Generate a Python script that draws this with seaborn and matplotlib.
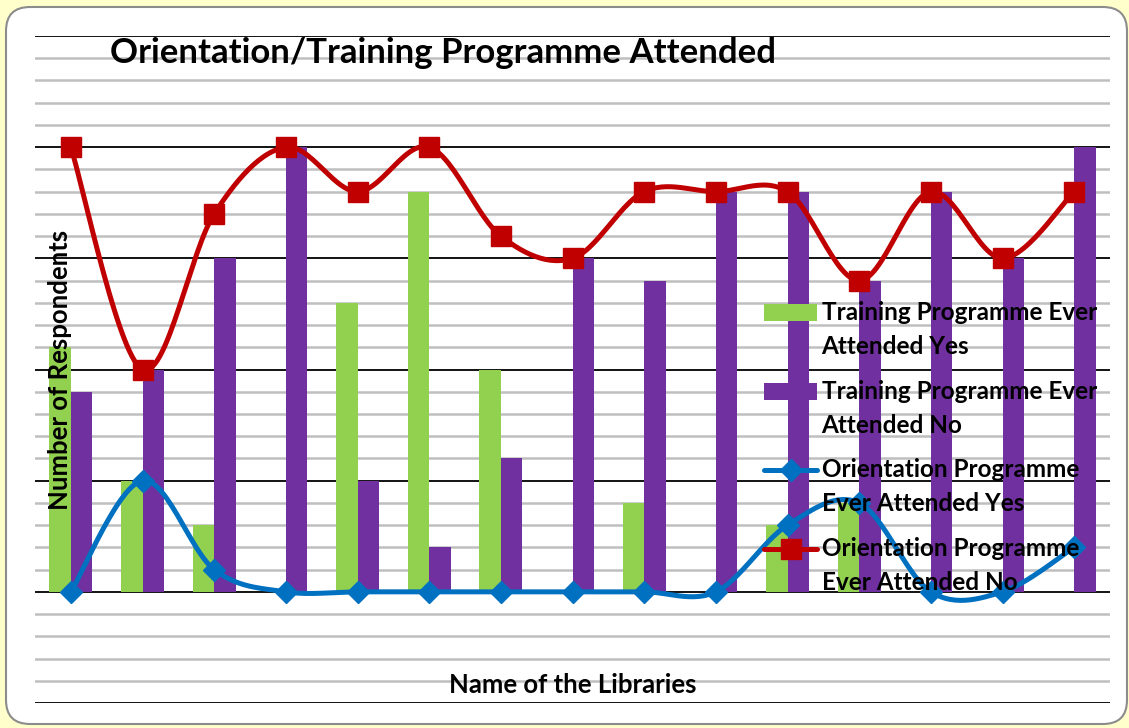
import matplotlib
matplotlib.use("Agg")
import matplotlib.pyplot as plt
import numpy as np
import pandas as pd
import seaborn as sns
from matplotlib.legend_handler import HandlerLine2D, HandlerPatch
from matplotlib.lines import Line2D
from matplotlib.patches import Patch, FancyBboxPatch
from matplotlib.transforms import IdentityTransform

# Дані з діаграми
libraries = ["L1", "L2", "L3", "L4", "L5", "L6", "L7", "L8",
             "L9", "L10", "L11", "L12", "L13", "L14", "L15"]
training_yes = [11, 5, 3, 0, 13, 18, 10, 0, 4, 0, 3, 4, 0, 0, 0]
training_no = [9, 10, 15, 20, 5, 2, 6, 15, 14, 18, 18, 14, 18, 15, 20]
orientation_yes = [0, 5, 1, 0, 0, 0, 0, 0, 0, 0, 3, 4, 0, 0, 2]
orientation_no = [20, 10, 17, 20, 18, 20, 16, 15, 18, 18, 18, 14, 18, 15, 18]

lbl_ty = "Training Programme Ever\nAttended Yes"
lbl_tn = "Training Programme Ever\nAttended No"
lbl_oy = "Orientation Programme\nEver Attended Yes"
lbl_on = "Orientation Programme\nEver Attended No"

GREEN = "#92D050"
PURPLE = "#7030A0"
BLUE = "#0070C0"
RED = "#C00000"

sns.set_style("white")
plt.rcParams["font.family"] = ["Lato", "DejaVu Sans"]
plt.rcParams["font.weight"] = "bold"
plt.rcParams["text.color"] = "black"


def smooth(y, steps=30):
    # згладжена лінія як в Excel (безьє через сусідні точки)
    y = np.asarray(y, dtype=float)
    x = np.arange(len(y), dtype=float)
    pts = np.column_stack([x, y])
    out = []
    for i in range(len(pts) - 1):
        p0 = pts[max(i - 1, 0)]
        p1 = pts[i]
        p2 = pts[i + 1]
        p3 = pts[min(i + 2, len(pts) - 1)]
        c1 = p1 + (p2 - p0) / 6
        c2 = p2 - (p3 - p1) / 6
        t = np.linspace(0, 1, steps)[:, None]
        seg = ((1 - t) ** 3) * p1 + 3 * ((1 - t) ** 2) * t * c1 + 3 * (1 - t) * t ** 2 * c2 + t ** 3 * p2
        out.append(seg if i == 0 else seg[1:])
    out = np.vstack(out)
    return out[:, 0], out[:, 1]


# значок легенди на рівні першого рядка підпису
SHIFT = 0.72


class UpPatch(HandlerPatch):
    def create_artists(self, legend, orig_handle, xdescent, ydescent, width, height, fontsize, trans):
        return super().create_artists(legend, orig_handle, xdescent, ydescent - SHIFT * fontsize,
                                      width, height, fontsize, trans)


class UpLine(HandlerLine2D):
    def create_artists(self, legend, orig_handle, xdescent, ydescent, width, height, fontsize, trans):
        return super().create_artists(legend, orig_handle, xdescent, ydescent - 2 * SHIFT * fontsize,
                                      width, height, fontsize, trans)


W, H = 1129, 728
fig = plt.figure(figsize=(W / 100, H / 100), dpi=100)
fig.patch.set_facecolor("#FFFFCC")

panel = FancyBboxPatch((6, 4), 1121, 717, boxstyle="round,pad=0,rounding_size=24",
                       transform=IdentityTransform(), facecolor="white",
                       edgecolor="#8C8C8C", linewidth=1.5, zorder=-5)
fig.patches.append(panel)

ax = fig.add_axes([35 / W, 25 / H, 1075 / W, 667 / H])
ax.set_facecolor("none")

bars = pd.DataFrame({
    "library": libraries * 2,
    "count": training_yes + training_no,
    "series": [lbl_ty] * len(libraries) + [lbl_tn] * len(libraries),
})
sns.barplot(data=bars, x="library", y="count", hue="series", palette=[GREEN, PURPLE],
            saturation=1, width=0.6, linewidth=0, legend=False, ax=ax, zorder=2)

xs, ys = smooth(orientation_yes)
ax.plot(xs, ys, color=BLUE, lw=3.6, zorder=3, solid_capstyle="round")
ax.plot(range(len(libraries)), orientation_yes, ls="none", marker="D", ms=11,
        color=BLUE, zorder=4)
xs, ys = smooth(orientation_no)
ax.plot(xs, ys, color=RED, lw=3.6, zorder=3, solid_capstyle="round")
ax.plot(range(len(libraries)), orientation_no, ls="none", marker="s", ms=14,
        color=RED, zorder=4)

ax.set_xlim(-0.5, 14.5)
ax.set_ylim(-5, 25)
ax.set_yticks(np.arange(-5, 26, 5))
ax.set_yticks(np.arange(-5, 26, 1), minor=True)
ax.set_axisbelow(True)
ax.grid(which="minor", axis="y", color="#BFBFBF", lw=1.8)
ax.grid(which="major", axis="y", color="black", lw=1.3)
ax.grid(axis="x", visible=False)
ax.tick_params(which="both", left=False, bottom=False, labelleft=False, labelbottom=False)
ax.set_xlabel("")
ax.set_ylabel("")
for s in ax.spines.values():
    s.set_visible(False)

ax.set_title("Orientation/Training Programme Attended", loc="left", x=0.07, y=0.9595,
             pad=0, fontsize=25, fontweight="bold")
ax.text(0.5, (703 - 685) / 667, "Name of the Libraries", transform=ax.transAxes,
        ha="center", va="center", fontsize=18.5, fontweight="bold", zorder=10)
ax.text((60 - 35) / 1075, 0.5, "Number of Respondents", transform=ax.transAxes,
        ha="center", va="center", rotation=90, fontsize=18.5, fontweight="bold", zorder=10)

handles = [
    Patch(facecolor=GREEN, edgecolor="none", linewidth=0, label=lbl_ty),
    Patch(facecolor=PURPLE, edgecolor="none", linewidth=0, label=lbl_tn),
    Line2D([], [], color=BLUE, lw=3.6, marker="D", ms=11, label=lbl_oy),
    Line2D([], [], color=RED, lw=3.6, marker="s", ms=14, label=lbl_on),
]
hmap = {Patch: UpPatch(), Line2D: UpLine()}
leg = ax.legend(handles=handles, handler_map=hmap, loc="upper left",
                bbox_to_anchor=(764 / W, 1 - 301 / H),
                bbox_transform=fig.transFigure, frameon=False, fontsize=17.5,
                handlelength=2.2, handletextpad=0.17, labelspacing=0.9, borderpad=0,
                borderaxespad=0)
leg.set_zorder(10)
for t in leg.get_texts():
    t.set_linespacing(1.57)
    t.set_fontweight("bold")

fig.savefig("out.png", dpi=100)
